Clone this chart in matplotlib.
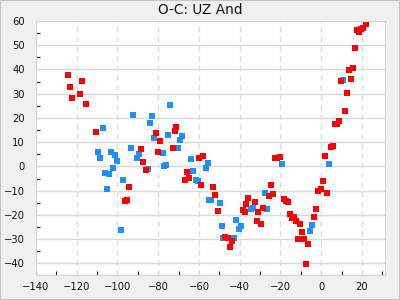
"""O-C diagram for UZ And."""
import matplotlib
matplotlib.use("Agg")
import matplotlib.pyplot as plt
from matplotlib.patches import Rectangle
from matplotlib.ticker import MultipleLocator

# red series (x = epoch offset, y = O-C)
red_x = [-124.1, -123.1, -122.2, -118.2, -117.2, -115.3, -110.4, -96.1, -95.1, -94.2,
         -88.3, -87.3, -85.8, -80.9, -79.9, -78.9, -73.0, -72.0, -71.1, -67.1,
         -66.1, -64.7, -59.8, -58.8, -57.8, -52.9, -51.9, -50.9, -47.0, -46.0,
         -45.0, -44.0, -38.6, -37.6, -36.7, -35.7, -32.7, -31.7, -30.8, -29.8,
         -28.8, -25.8, -24.9, -23.9, -22.9, -21.9, -20.4, -18.5, -17.5, -16.5,
         -15.5, -14.5, -13.6, -12.6, -11.6, -10.6, -9.6, -8.6, -7.7, -6.7,
         -3.7, -2.8, -1.8, -0.3, 0.7, 1.7, 2.7, 4.6, 5.6, 6.6,
         7.6, 8.5, 9.5, 11.5, 12.5, 13.5, 14.5, 15.4, 16.4, 17.4,
         18.4, 19.4, 20.3, 21.8]
red_y = [37.6, 32.6, 28.1, 29.7, 35.1, 25.6, 14.4, -14.1, -13.7, -8.3,
         7.0, 2.0, -1.3, 13.6, 6.0, 10.3, 7.4, 14.8, 16.1, -5.4,
         -2.1, -4.6, 3.3, -7.5, 4.1, -8.3, -11.6, -18.2, -29.0, -29.4,
         -33.1, -30.6, -17.8, -18.6, -15.3, -12.9, -14.5, -22.4, -19.0, -23.6,
         -17.0, -12.0, -7.5, -11.2, 3.3, 3.3, 3.7, -13.3, -14.1, -14.5,
         -19.5, -21.1, -20.7, -22.4, -29.8, -23.6, -26.9, -29.8, -40.1, -31.9,
         -20.7, -17.4, -10.0, -9.5, -6.2, 4.1, -10.8, 8.2, 8.6, 17.7,
         17.3, 18.6, 35.1, 22.7, 30.1, 39.6, 35.9, 40.5, 48.7, 56.2,
         55.3, 56.6, 57.0, 58.6]

# blue series
blue_x = [-109.4, -108.4, -106.9, -106.0, -105.0, -104.0, -103.0, -102.0, -101.0, -100.0,
          -98.1, -97.1, -93.2, -92.2, -90.2, -89.2, -84.8, -83.8, -82.9, -81.9,
          -77.7, -77.0, -76.0, -75.0, -74.0, -70.1, -69.1, -68.1, -63.7, -62.7,
          -61.7, -60.7, -56.8, -55.8, -55.3, -53.9, -49.9, -48.9, -48.0, -42.6,
          -41.6, -40.6, -39.6, -34.7, -33.7, -27.8, -26.8, -19.5, -5.7, -4.7,
          3.6, 10.5]
blue_y = [6.0, 3.3, 15.7, -2.9, -9.5, -3.3, 6.0, -0.5, 4.9, 2.4,
          -26.1, -5.4, 7.8, 21.4, 3.3, 5.2, -0.9, 18.1, 20.6, 11.9,
          5.6, 0.0, 0.4, 12.8, 25.2, 7.4, 10.7, 12.4, 2.9, -1.7,
          -5.4, -6.2, -0.5, 1.6, -13.7, -13.7, -14.9, -24.4, -29.4, -29.4,
          -21.9, -25.7, -24.4, -17.4, -17.0, -10.8, -17.4, 1.2, -26.5, -24.0,
          0.8, 35.5]


def main() -> None:
    fig = plt.figure(figsize=(4, 3), dpi=100, facecolor="#f0f0f0")
    fig.patches.append(Rectangle((0, 0), 1, 1, transform=fig.transFigure,
                                 fill=False, edgecolor="#c4c4c4", linewidth=1.5))
    ax = fig.add_axes([0.09, 0.0833, 0.8725, 0.8467])

    ax.plot(blue_x, blue_y, "s", color="#1e90ff", markersize=4.6, markeredgewidth=0)
    ax.plot(red_x, red_y, "s", color="#ff0000", markersize=4.6, markeredgewidth=0)

    ax.set_xlim(-140, 31.3)
    ax.set_ylim(-44.8, 60)
    ax.xaxis.set_major_locator(MultipleLocator(20))
    ax.xaxis.set_minor_locator(MultipleLocator(10))
    ax.yaxis.set_major_locator(MultipleLocator(10))
    ax.yaxis.set_minor_locator(MultipleLocator(5))

    ax.grid(axis="y", which="major", color="#d9d9d9", linewidth=1.0)
    ax.grid(axis="x", which="major", color="#dcdcdc", linewidth=1.0, linestyle=(0, (4, 3)))
    ax.set_axisbelow(True)

    ax.tick_params(which="major", length=0, labelsize=7.2, colors="#111111")
    ax.tick_params(axis="x", which="major", pad=5)
    ax.tick_params(axis="y", which="major", pad=8)
    ax.tick_params(which="minor", direction="in", length=3, width=0.8, color="#222222")
    for s in ax.spines.values():
        s.set_color("#d4d4d4")

    fig.text(0.5, 1 - 10 / 300, "O-C: UZ And", ha="center", va="center",
             fontsize=9.8, color="#111111")

    fig.savefig("out.png", dpi=100, facecolor=fig.get_facecolor())
    plt.close(fig)


if __name__ == "__main__":
    main()
